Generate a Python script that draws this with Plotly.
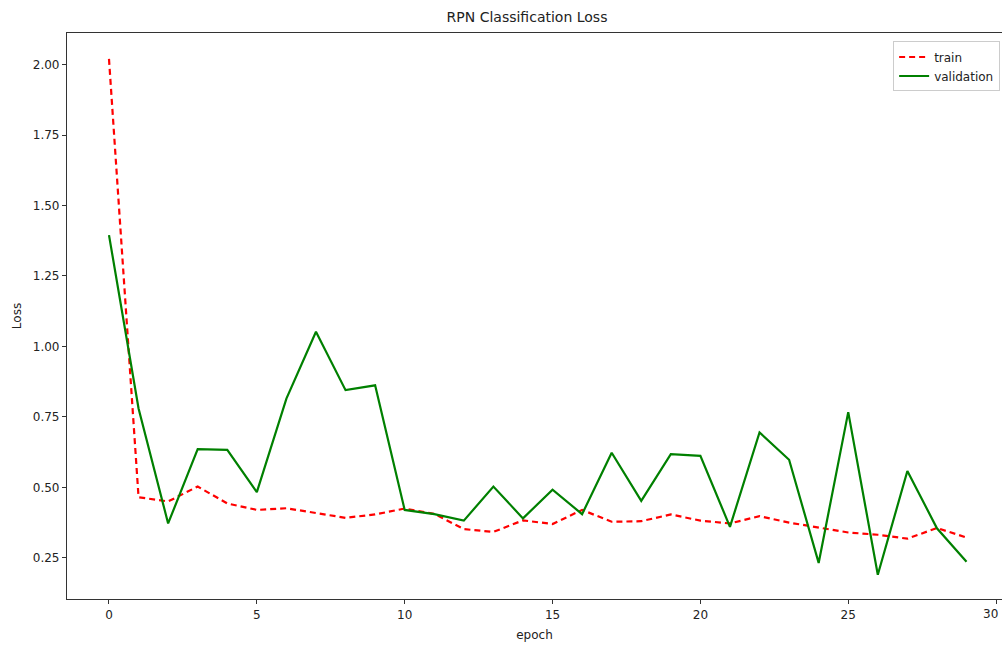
import plotly.graph_objects as go

epochs = list(range(30))
train_loss = [2.02, 0.465, 0.45, 0.503, 0.443, 0.42, 0.426, 0.41, 0.392, 0.404,
              0.425, 0.406, 0.352, 0.342, 0.383, 0.37, 0.42, 0.378, 0.38, 0.404,
              0.382, 0.372, 0.398, 0.375, 0.358, 0.34, 0.332, 0.318, 0.356, 0.322]
val_loss = [1.395, 0.78, 0.372, 0.636, 0.633, 0.483, 0.815, 1.052, 0.845, 0.862,
            0.42, 0.405, 0.382, 0.503, 0.39, 0.492, 0.405, 0.623, 0.452, 0.618,
            0.612, 0.36, 0.695, 0.598, 0.232, 0.767, 0.19, 0.558, 0.355, 0.236]
x_ticks = [0, 5, 10, 15, 20, 25, 30]
y_ticks = [0.25, 0.5, 0.75, 1.0, 1.25, 1.5, 1.75, 2.0]

fig = go.Figure()
fig.add_trace(go.Scatter(x=epochs, y=train_loss, mode="lines", name="train",
                         line=dict(color="#ff0000", width=2.2, dash="6px,4px")))
fig.add_trace(go.Scatter(x=epochs, y=val_loss, mode="lines", name="validation",
                         line=dict(color="#008000", width=2.2)))

fig.update_layout(
    width=1002, height=645,
    margin=dict(l=67, r=0, t=33, b=46, autoexpand=False),
    paper_bgcolor="white", plot_bgcolor="white",
    font=dict(family="DejaVu Sans", size=12, color="#222"),
    title=dict(text="RPN Classification Loss", x=527/1002, xref="container",
               xanchor="center", y=1-17/645, yref="container", yanchor="middle",
               font=dict(family="DejaVu Sans", size=14, color="#222")),
    legend=dict(x=0.998, y=0.985, xanchor="right", yanchor="top",
                bordercolor="#cccccc", borderwidth=1, bgcolor="white",
                font=dict(family="DejaVu Sans", size=12, color="#222"),
                tracegroupgap=0, itemwidth=30),
    showlegend=True,
)
fig.update_xaxes(range=[-1.42, 30.2], tickvals=x_ticks, ticktext=[str(t) for t in x_ticks],
                 showgrid=False, zeroline=False, showline=True, linecolor="#333",
                 linewidth=1.2, mirror=True, ticks="outside", ticklen=4, tickcolor="#333",
                 title=dict(text="epoch", standoff=10, font=dict(family="DejaVu Sans", size=12, color="#222")))
fig.update_yaxes(range=[0.104, 2.112], tickvals=y_ticks, ticktext=[f"{t:.2f}" for t in y_ticks],
                 showgrid=False, zeroline=False, showline=True, linecolor="#333",
                 linewidth=1.2, mirror=False, ticks="outside", ticklen=4, tickcolor="#333",
                 title=dict(text="Loss", standoff=8, font=dict(family="DejaVu Sans", size=12, color="#222")))

# last tick label sits at the very right edge; keep it fully inside the page
fig.add_annotation(x=x_ticks[-1], xref="x", xanchor="right", xshift=4,
                   y=0, yref="paper", yanchor="top", yshift=-6,
                   text=str(x_ticks[-1]), showarrow=False,
                   font=dict(family="DejaVu Sans", size=12, color="#222"))

fig.write_html("out.html", config={"displayModeBar": False},
               post_script="document.body.style.margin='0';document.body.style.overflow='hidden';")
